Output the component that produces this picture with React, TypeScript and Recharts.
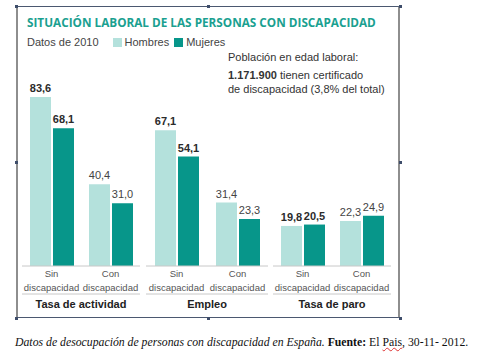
import { BarChart, Bar, XAxis, YAxis, LabelList, Label } from 'recharts';

const CATEGORIES = ['Sin discapacidad', 'Con discapacidad'];
const SECTIONS = ['Tasa de actividad', 'Empleo', 'Tasa de paro'];
const HOMBRES = [
  [83.6, 40.4],
  [67.1, 31.4],
  [19.8, 22.3],
];
const MUJERES = [
  [68.1, 31.0],
  [54.1, 23.3],
  [20.5, 24.9],
];

const LIGHT = '#b4e1dc';
const DARK = '#07968a';
const SANS = '"Liberation Sans", Arial, sans-serif';

// left edge + width of each of the three small charts
const SLOTS = [
  { left: 22, width: 118 },
  { left: 146, width: 122 },
  { left: 273, width: 118 },
];

const fmt = (v: number) => v.toFixed(1).replace('.', ',');

function CatTick(props: any) {
  const { x, y, payload } = props;
  const [a, b] = String(payload.value).split(' ');
  return (
    <text x={x} y={y} textAnchor="middle" fontSize={9.5} fill="#555" fontFamily={SANS}>
      <tspan x={x} dy={11}>{a}</tspan>
      <tspan x={x} dy={13.5}>{b}</tspan>
    </text>
  );
}

function ValueLabel(props: any) {
  const { x, y, width, value, index } = props;
  return (
    <text
      x={Number(x) + Number(width) / 2}
      y={Number(y) - 5}
      textAnchor="middle"
      fontSize={11}
      fontFamily={SANS}
      fontWeight={index === 0 ? 'bold' : 'normal'}
      fill={index === 0 ? '#2b2b2b' : '#444'}
    >
      {fmt(Number(value))}
    </text>
  );
}

function Section({ idx }: { idx: number }) {
  const data = CATEGORIES.map((cat, i) => ({
    cat,
    hombres: HOMBRES[idx][i],
    mujeres: MUJERES[idx][i],
  }));
  const slot = SLOTS[idx];
  return (
    <div style={{ position: 'absolute', left: slot.left, top: 60 }}>
      <BarChart
        width={slot.width}
        height={254}
        data={data}
        margin={{ top: 24, right: 0, bottom: 0, left: 0 }}
        barSize={21}
        barGap={2}
      >
        <YAxis hide domain={[0, 90]} />
        <XAxis
          dataKey="cat"
          height={28}
          interval={0}
          tickSize={0}
          tickMargin={0}
          tickLine={false}
          axisLine={{ stroke: '#c8c8c8' }}
          tick={<CatTick />}
        />
        <XAxis
          xAxisId="sec"
          dataKey="cat"
          height={20}
          tick={false}
          tickLine={false}
          axisLine={{ stroke: '#c8c8c8' }}
        >
          <Label
            value={SECTIONS[idx]}
            position="center"
            fontSize={11}
            fontWeight="bold"
            fill="#222"
            fontFamily={SANS}
          />
        </XAxis>
        <Bar dataKey="hombres" fill={LIGHT} isAnimationActive={false}>
          <LabelList dataKey="hombres" content={<ValueLabel />} />
        </Bar>
        <Bar dataKey="mujeres" fill={DARK} isAnimationActive={false}>
          <LabelList dataKey="mujeres" content={<ValueLabel />} />
        </Bar>
      </BarChart>
    </div>
  );
}

const HANDLES = [
  [16, 6], [208, 6], [400, 6],
  [16, 162], [400, 162],
  [16, 318], [208, 318], [400, 318],
];

export default function App() {
  return (
    <div
      style={{
        position: 'absolute',
        left: 0,
        top: 0,
        width: 500,
        height: 358,
        background: '#fff',
        fontFamily: SANS,
        overflow: 'hidden',
      }}
    >
      <div
        style={{
          position: 'absolute',
          left: 16,
          top: 6,
          width: 384,
          height: 312,
          boxSizing: 'border-box',
          borderTop: '1px solid #4b5870',
          borderBottom: '1px solid #4b5870',
          borderLeft: '2px solid #8e8e8e',
          borderRight: '2px solid #8e8e8e',
        }}
      />
      {HANDLES.map(([x, y], i) => (
        <div
          key={i}
          style={{ position: 'absolute', left: x - 1.5, top: y - 1.5, width: 3, height: 3, background: '#3e4d6a' }}
        />
      ))}

      <div
        style={{
          position: 'absolute',
          left: 27,
          top: 14,
          lineHeight: '16px',
          fontSize: 11.75,
          fontWeight: 700,
          fontFamily: '"Open Sans", sans-serif',
          color: '#1aa090',
          whiteSpace: 'nowrap',
        }}
      >
        SITUACIÓN LABORAL DE LAS PERSONAS CON DISCAPACIDAD
      </div>

      <div style={{ position: 'absolute', left: 27, top: 35, lineHeight: '14px', fontSize: 11, color: '#444', whiteSpace: 'nowrap', display: 'flex', alignItems: 'center' }}>
        <span>Datos de 2010</span>
        <span style={{ display: 'inline-block', width: 9, height: 9, background: LIGHT, marginLeft: 14, marginRight: 3 }} />
        <span>Hombres</span>
        <span style={{ display: 'inline-block', width: 9, height: 9, background: DARK, marginLeft: 5, marginRight: 3 }} />
        <span>Mujeres</span>
      </div>

      <div style={{ position: 'absolute', left: 228, top: 50, fontSize: 11, color: '#333', lineHeight: '14px', whiteSpace: 'nowrap' }}>
        <div>Población en edad laboral:</div>
        <div style={{ marginTop: 4 }}>
          <b>1.171.900</b> tienen certificado
        </div>
        <div>de discapacidad (3,8% del total)</div>
      </div>

      {SECTIONS.map((_, i) => (
        <Section key={i} idx={i} />
      ))}

      <div
        style={{
          position: 'absolute',
          left: 15,
          top: 335,
          fontSize: 11.75,
          lineHeight: '16px',
          fontFamily: '"Liberation Serif", "Times New Roman", serif',
          color: '#111',
          whiteSpace: 'nowrap',
        }}
      >
        <i>Datos de desocupación de personas con discapacidad en España.</i> <b>Fuente:</b> El{' '}
        <span style={{ textDecoration: 'underline wavy #d33', textDecorationThickness: 1 }}>Pais</span>, 30-11- 2012.
      </div>
    </div>
  );
}
